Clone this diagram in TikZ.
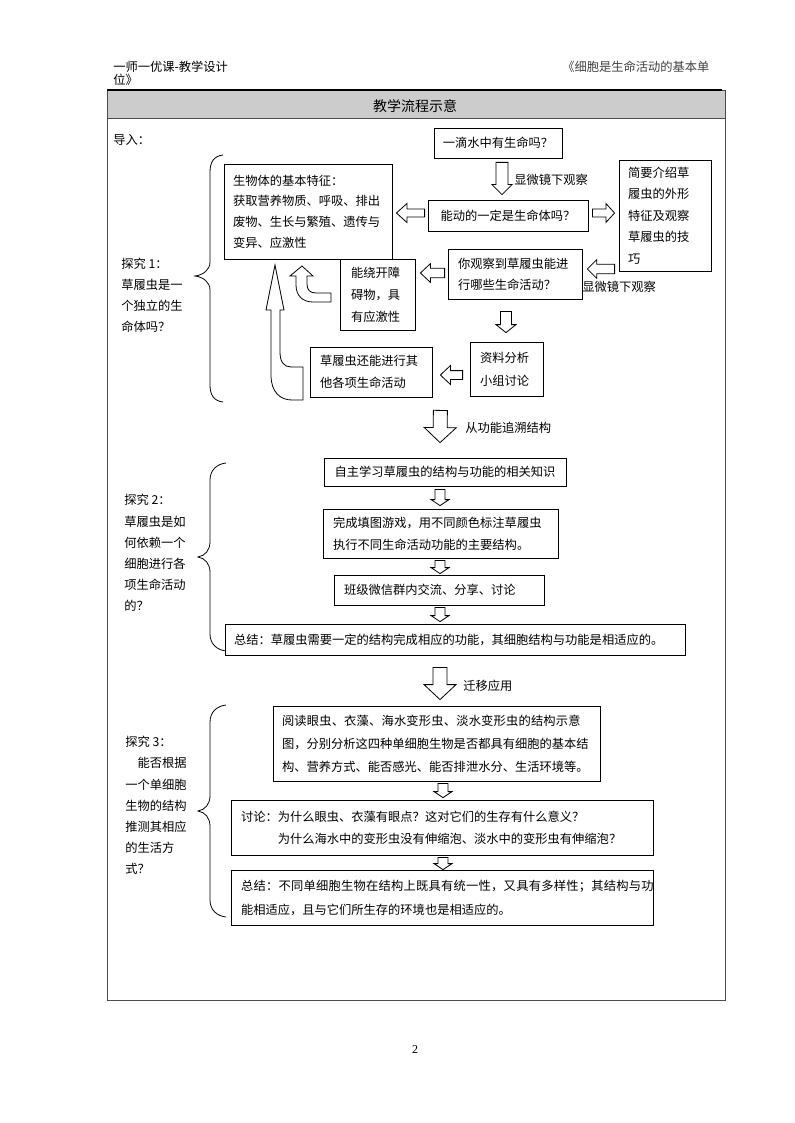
\documentclass[tikz,border=0pt]{standalone}
\usepackage{fontspec}
\setmainfont{Noto Sans CJK SC}
\newfontfamily\pagenumfont{Liberation Serif}
\usetikzlibrary{calc}
\newcommand\fsz[1]{\fontsize{9.2}{#1}\selectfont}
\newcommand\hollowarrow[5]{%
  \coordinate (bS) at #1;
  \coordinate (bE) at #2;
  \coordinate (bH) at ($(bE)!#5!(bS)$);
  \draw[harrow] ($(bS)!#3!90:(bE)$) -- ($(bH)!#3!90:(bE)$) -- ($(bH)!#4!90:(bE)$) -- (bE)
    -- ($(bH)!#4!-90:(bE)$) -- ($(bH)!#3!-90:(bE)$) -- ($(bS)!#3!-90:(bE)$) -- cycle;}
\tikzset{
  box/.style={draw, line width=0.6pt, rectangle, inner sep=0pt, align=left},
  harrow/.style={draw, line width=0.6pt, fill=white, line join=miter},
  brace/.style={draw, line width=0.6pt},
  lbl/.style={inner sep=0pt, anchor=west, align=left},
  frame/.style={draw=black!70, line width=0.6pt},
}
\begin{document}
\begin{tikzpicture}[x=0.75pt,y=-0.75pt]
\useasboundingbox (0,0) rectangle (794,1123);
% page header
\node[lbl, font=\fsz{12}] (h1) at (113,67) {一师一优课-教学设计};
\node[lbl, font=\fsz{12}] (h2) at (113,80) {位》};
\node[lbl, font=\fsz{12}, text=black!75] (h3) at (562,67) {《细胞是生命活动的基本单};
% frame
\fill[gray!40] (107,90) rectangle (725,118);
\draw[frame] (107,90) rectangle (725,1000);
\draw[frame] (107,118) -- (725,118);
\draw[line width=1.2pt] (107,90) -- (722,90);
\node[font=\fontsize{10.5}{12}\selectfont] (title) at (415,106) {教学流程示意};
% section 1
\node[lbl, font=\fsz{12}] (lead) at (113,140) {导入：};
\node[box, minimum width=96pt, minimum height=22.5pt, align=center, font=\fsz{12}] (q1) at (498,143) {一滴水中有生命吗？};
\node[box, minimum width=120pt, minimum height=23.25pt, align=center, font=\fsz{12}] (q2) at (508,215.5) {能动的一定是生命体吗？};
\node[box, minimum width=69pt, minimum height=83.25pt, text width=55.5pt, font=\fsz{16.1}] (intro) at (665,215.5) {简要介绍草\\履虫的外形\\特征及观察\\草履虫的技\\巧};
\node[box, minimum width=126pt, minimum height=71.25pt, text width=112.5pt, font=\fsz{15.5}] (bio) at (308,211.5) {生物体的基本特征：\\获取营养物质、呼吸、排出\\废物、生长与繁殖、遗传与\\变异、应激性};
\node[box, minimum width=100.5pt, minimum height=37.5pt, text width=85.5pt, font=\fsz{15.75}] (obs) at (515,274) {你观察到草履虫能进\\行哪些生命活动？};
\node[box, minimum width=56.25pt, minimum height=53.25pt, text width=39.75pt, font=\fsz{16.5}] (obst) at (377.5,294.5) {能绕开障\\碍物，具\\有应激性};
\node[box, minimum width=54.75pt, minimum height=40.5pt, text width=39.75pt, font=\fsz{17.25}] (data) at (506.5,369) {资料分析\\小组讨论};
\node[box, minimum width=91.5pt, minimum height=37.5pt, text width=76.5pt, font=\fsz{16.5}] (other) at (371,372) {草履虫还能进行其\\他各项生命活动};
\node[lbl, font=\fsz{12}] (m1) at (514,180) {显微镜下观察};
\node[lbl, font=\fsz{12}] (m2) at (582,287) {显微镜下观察};
\node[lbl, font=\fsz{15.75}] (t1) at (121,295.5) {探究 1：\\草履虫是一\\个独立的生\\命体吗？};
% arrows section 1
\hollowarrow{($(q1.south)+(4,4)$)}{($(q2.north)+(-6,-5)$)}{4.5pt}{7.5pt}{7.5pt}
\hollowarrow{($(q2.west)+(-3,-2.5)$)}{($(bio.east)+(4,1.5)$)}{3pt}{7.1pt}{7.9pt}
\hollowarrow{($(q2.east)+(4,-2.5)$)}{($(intro.west)+(-4,-2.5)$)}{3pt}{7.1pt}{6.5pt}
\hollowarrow{($(intro.west)+(-4,53.5)$)}{($(obs.east)+(5,-5)$)}{3.5pt}{7pt}{7pt}
\hollowarrow{($(obs.west)+(-3,-1)$)}{($(obst.east)+(5,-21.5)$)}{3.5pt}{7pt}{7.5pt}
\hollowarrow{($(obs.south)+(-9,12)$)}{($(data.north)+(-0.5,-9)$)}{4.1pt}{7.5pt}{6pt}
\hollowarrow{($(data.west)+(-7,6)$)}{($(other.east)+(8,3)$)}{3.3pt}{7.1pt}{7.5pt}
% U-shaped arrows
\draw[harrow] (331,293) -- (316,293) .. controls (310,293) and (307,290) .. (307,284) -- (307,276) -- (313,276) -- (302,266) -- (290,276) -- (296,276) -- (296,285) .. controls (296,296) and (303,302) .. (313,302) -- (331,302) -- cycle;
\draw[harrow] (303,367) -- (291,367) .. controls (284,367) and (280,362) .. (280,352) -- (280,310) -- (284,310) -- (275,265) -- (266,310) -- (271,310) -- (271,375) .. controls (271,392) and (280,400) .. (292,400) -- (303,400) -- cycle;
% brace 1
\draw[brace] (223,155) .. controls (214,156) and (210,162) .. (210,172) -- (210,262) .. controls (210,270) and (203,275) .. (195,276) .. controls (203,277) and (210,282) .. (210,290) -- (210,385) .. controls (210,395) and (214,401) .. (223,402);
% transition 1
\node[lbl, font=\fsz{12}] (m3) at (465,428) {从功能追溯结构};
% section 2
\node[box, minimum width=181.5pt, minimum height=21pt, align=center, font=\fsz{12}] (s2a) at (445,472) {自主学习草履虫的结构与功能的相关知识};
\node[box, minimum width=176.25pt, minimum height=36.75pt, text width=161.25pt, font=\fsz{16.5}] (s2b) at (440.5,533.5) {完成填图游戏，用不同颜色标注草履虫\\执行不同生命活动功能的主要结构。};
\node[box, minimum width=157.5pt, minimum height=22.5pt, text width=142.5pt, font=\fsz{12}] (s2c) at (439,590) {班级微信群内交流、分享、讨论};
\node[box, minimum width=345pt, minimum height=23.25pt, text width=331.5pt, font=\fsz{12}] (s2d) at (455,639.5) {总结：草履虫需要一定的结构完成相应的功能，其细胞结构与功能是相适应的。};
\node[lbl, font=\fsz{15.9}] (t2) at (124,553) {探究 2：\\草履虫是如\\何依赖一个\\细胞进行各\\项生命活动\\的？};
\hollowarrow{($(other.south east)+(8,13)$)}{($(s2a.north)+(-5,-15)$)}{5.25pt}{12pt}{11.25pt}
\hollowarrow{($(s2a.south)+(-5,3)$)}{($(s2b.north)+(-0.5,-3)$)}{3.75pt}{6.75pt}{4.5pt}
\hollowarrow{($(s2b.south)+(-0.5,2)$)}{($(s2c.north)+(1,-1)$)}{3.75pt}{6.75pt}{4.5pt}
\hollowarrow{($(s2c.south)+(1,2)$)}{($(s2d.north)+(-15,-2)$)}{3.75pt}{6.75pt}{4.5pt}
\draw[brace] (226,463) .. controls (217,464) and (210,470) .. (210,480) -- (210,542) .. controls (210,550) and (205,556) .. (198,557) .. controls (205,558) and (210,564) .. (210,572) -- (210,634) .. controls (210,644) and (217,650) .. (226,651);
% transition 2
\node[lbl, font=\fsz{12}] (m4) at (463,686) {迁移应用};
% section 3
\node[box, minimum width=245.25pt, minimum height=56.25pt, text width=231.75pt, font=\fsz{17.25}] (s3a) at (436.5,743.5) {{\addfontfeature{LetterSpace=1.5}阅读眼虫、衣藻、海水变形虫、淡水变形虫的结构示意}\\图，分别分析这四种单细胞生物是否都具有细胞的基本结\\构、营养方式、能否感光、能否排泄水分、生活环境等。};
\node[box, minimum width=316.5pt, minimum height=41.25pt, text width=301.5pt, font=\fsz{16.5}] (s3b) at (442,827.5) {讨论：为什么眼虫、衣藻有眼点？这对它们的生存有什么意义？\\\hspace*{3em}为什么海水中的变形虫没有伸缩泡、淡水中的变形虫有伸缩泡？};
\node[box, minimum width=316.5pt, minimum height=41.25pt, text width=301.5pt, font=\fsz{18}] (s3c) at (442,897.5) {{\addfontfeature{LetterSpace=2}总结：不同单细胞生物在结构上既具有统一性，又具有多样性；其结构与功}\\能相适应，且与它们所生存的环境也是相适应的。};
\node[lbl, font=\fsz{15.9}] (t3) at (125,805.5) {探究 3：\\\hspace*{1em}能否根据\\一个单细胞\\生物的结构\\推测其相应\\的生活方\\式？};
\hollowarrow{($(s2d.south)+(-15,12)$)}{($(s3a.north)+(3.5,-6)$)}{5.25pt}{12pt}{11.25pt}
\hollowarrow{($(s3a.south)+(6.5,2)$)}{($(s3b.north)+(1,-2)$)}{3.75pt}{6.75pt}{4.5pt}
\hollowarrow{($(s3b.south)+(1,2)$)}{($(s3c.north)+(1,0)$)}{3.75pt}{6.75pt}{4.5pt}
\draw[brace] (226,705) .. controls (217,706) and (210,712) .. (210,722) -- (210,796) .. controls (210,804) and (205,810) .. (198,811) .. controls (205,812) and (210,818) .. (210,826) -- (210,900) .. controls (210,910) and (217,916) .. (226,917);
% page number
\node[font=\pagenumfont\fontsize{9}{11}\selectfont] (pg) at (415,1050) {2};
\end{tikzpicture}
\end{document}
